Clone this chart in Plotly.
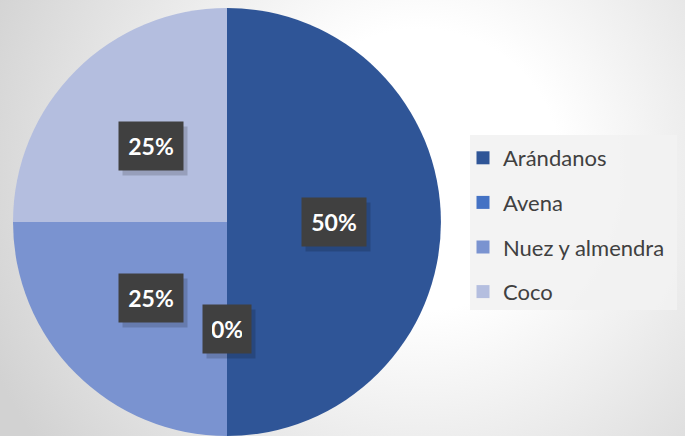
import base64
import numpy as np
import plotly.graph_objects as go

labels = ["Arándanos", "Avena", "Nuez y almendra", "Coco"]
values = [50, 0, 25, 25]
colors = ["#2F5597", "#4472C4", "#7A93D0", "#B4BEDF"]

W, H = 685, 436

# radial background, white centre fading to grey
bg_svg = f"""<svg xmlns='http://www.w3.org/2000/svg' width='{W}' height='{H}'>
<defs><radialGradient id='g' gradientUnits='userSpaceOnUse' cx='420' cy='170' r='470'>
<stop offset='0' stop-color='#ffffff'/><stop offset='0.3' stop-color='#ffffff'/>
<stop offset='1' stop-color='#d2d2d2'/></radialGradient></defs>
<rect width='{W}' height='{H}' fill='url(#g)'/></svg>"""
bg_src = "data:image/svg+xml;base64," + base64.b64encode(bg_svg.encode()).decode()

# pie placement (paper fractions)
dom_x = [12 / W, 442 / W]
dom_y = [0, 1 - 8 / H]

fig = go.Figure()
fig.add_trace(go.Pie(
    labels=labels, values=values, sort=False, direction="clockwise",
    rotation=0, marker=dict(colors=colors, line=dict(width=0)),
    textinfo="none", hoverinfo="label+percent", showlegend=False,
    domain=dict(x=dom_x, y=dom_y),
))

# legend entries (one group each so the gap spreads them out)
for lab, col in zip(labels, colors):
    fig.add_trace(go.Scatter(
        x=[None], y=[None], mode="markers", name=lab, legendgroup=lab,
        marker=dict(symbol="square", size=13, color=col),
    ))

# data labels at the middle of each slice
cx_px = (dom_x[0] + dom_x[1]) / 2 * W
pie_h = (dom_y[1] - dom_y[0]) * H
R = pie_h / 2
cy_px = H - (dom_y[0] * H + R)
total = sum(values)
cum = np.cumsum([0] + values[:-1])
for v, c in zip(values, cum):
    theta = np.deg2rad((c + v / 2) / total * 360)
    px = cx_px + 0.5 * R * np.sin(theta)
    py = cy_px - 0.5 * R * np.cos(theta)
    txt = f"<b>{round(v / total * 100)}%</b>"
    bw = 30 if v == 0 else 46
    # soft shadow
    fig.add_annotation(x=px / W, y=1 - py / H, xref="paper", yref="paper",
                       xanchor="center", yanchor="middle",
                       text=" ", showarrow=False, xshift=4, yshift=-5,
                       width=bw, height=30,
                       bgcolor="rgba(0,0,0,0.16)", borderpad=9)
    fig.add_annotation(x=px / W, y=1 - py / H, xref="paper", yref="paper",
                       xanchor="center", yanchor="middle",
                       text=txt, showarrow=False, width=bw, height=30,
                       font=dict(family="Lato", size=23, color="white"),
                       bgcolor="#404040", borderpad=9)

fig.add_layout_image(dict(source=bg_src, xref="paper", yref="paper", x=0, y=1,
                          sizex=1, sizey=1, sizing="stretch", layer="below",
                          xanchor="left", yanchor="top"))

# light panel behind the legend
fig.add_shape(type="rect", xref="paper", yref="paper",
              x0=470 / W, x1=677 / W, y0=1 - 310 / H, y1=1 - 135 / H,
              fillcolor="rgba(242,242,242,0.9)", line=dict(width=0), layer="below")

fig.update_layout(
    width=W, height=H,
    margin=dict(l=0, r=0, t=0, b=0),
    paper_bgcolor="white", plot_bgcolor="rgba(0,0,0,0)",
    xaxis=dict(visible=False), yaxis=dict(visible=False),
    legend=dict(x=463 / W, y=1 - 137 / H, xanchor="left", yanchor="top",
                bgcolor="rgba(0,0,0,0)", tracegroupgap=13,
                font=dict(family="Lato", size=22, color="#404040")),
)

fig.write_html("out.html", config={"displayModeBar": False},
               post_script="document.body.style.margin='0';")
